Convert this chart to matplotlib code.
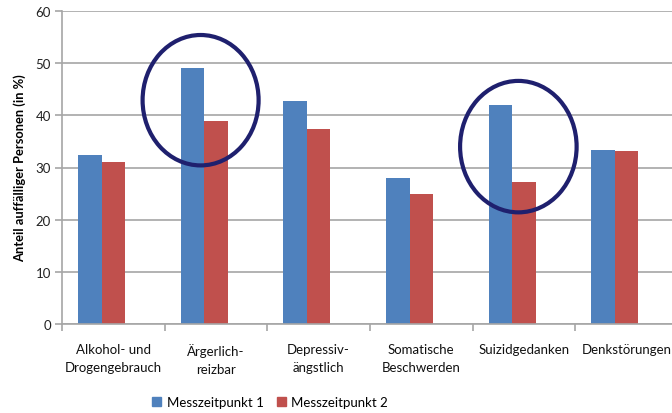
import matplotlib
matplotlib.use("Agg")
import matplotlib.pyplot as plt
from matplotlib.patches import Ellipse, Patch
import numpy as np

categories = ["Alkohol- und\nDrogengebrauch", "Ärgerlich-\nreizbar", "Depressiv-\nängstlich",
              "Somatische\nBeschwerden", "Suizidgedanken", "Denkstörungen"]
series1 = [32.4, 49.0, 42.7, 28.0, 42.0, 33.3]
series2 = [31.0, 39.0, 37.4, 24.9, 27.2, 33.2]
series_names = ["Messzeitpunkt 1", "Messzeitpunkt 2"]
yticks = [0, 10, 20, 30, 40, 50, 60]
# highlight ellipses: (x center, y center, width, height) in data units
highlights = [(0.85, 42.9, 1.13, 25.0), (3.945, 34.0, 1.135, 25.2)]

plt.rcParams['font.family'] = ['Lato', 'DejaVu Sans']
c1 = "#4F81BD"
c2 = "#C0504D"
grid_c = "#A6A6A6"

fig = plt.figure(figsize=(6.72, 4.14), dpi=100)
ax = fig.add_axes([62/672, 89/414, 616/672, 313/414])
x = np.arange(len(categories))
w = 0.229
ax.bar(x - w, series1, width=w, color=c1, label=series_names[0])
ax.bar(x, series2, width=w, color=c2, label=series_names[1])

ax.set_xlim(-0.5, 5.5)
ax.set_ylim(0, 60)
ax.set_yticks(yticks)
ax.set_yticklabels([str(v) for v in yticks], fontsize=9.5, color="#222222")
ax.yaxis.grid(True, color=grid_c, linewidth=1.2)
ax.set_axisbelow(True)
ax.set_xticks(x)
ax.set_xticklabels(categories, fontsize=9.5, color="#111111", linespacing=1.6)
ax.tick_params(axis='x', length=0, pad=14)
ax.set_xticks(np.arange(-0.5, 6.0, 1.0), minor=True)
ax.tick_params(axis='x', which='minor', length=5, color=grid_c, width=1.2)
ax.tick_params(axis='y', length=5, color=grid_c, width=1.2, pad=3)
for s in ['top', 'right']:
    ax.spines[s].set_visible(False)
for s in ['left', 'bottom']:
    ax.spines[s].set_color(grid_c)
    ax.spines[s].set_linewidth(1.2)

ax.set_ylabel("Anteil auffälliger Personen (in %)", fontsize=9.3, fontweight='bold', labelpad=7)

for (cx, cy, ew, eh) in highlights:
    ax.add_patch(Ellipse((cx, cy), ew, eh, fill=False, edgecolor="#1F206E",
                         linewidth=3.0, zorder=5, clip_on=False))

handles = [Patch(color=c1), Patch(color=c2)]
fig.legend(handles, series_names, loc='center', bbox_to_anchor=(270/672, 1 - 403/414),
           ncol=2, frameon=False, fontsize=9.5, handlelength=0.7, handleheight=0.7,
           handletextpad=0.4, columnspacing=1.0)

fig.savefig("out.png", dpi=100)
